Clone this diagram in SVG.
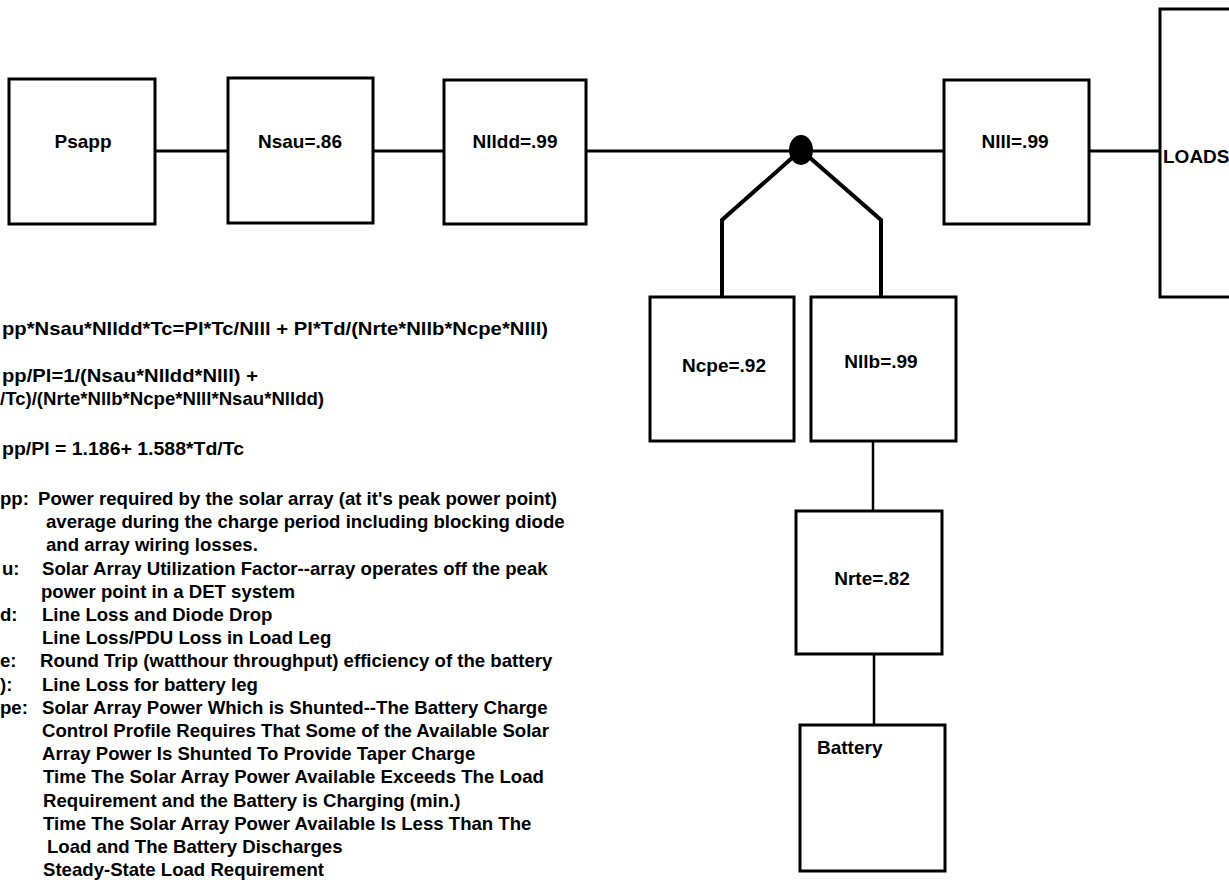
<svg xmlns="http://www.w3.org/2000/svg" width="1229" height="880" viewBox="0 0 1229 880">
<style>
.box{fill:#fff;stroke:#000;stroke-width:3}
.lbl{font-family:"Liberation Sans",Arial,sans-serif;font-weight:bold;font-size:19px;fill:#000}
.mid{text-anchor:middle}
.txt{font-family:"Liberation Sans",Arial,sans-serif;font-weight:bold;font-size:18.6px;fill:#000}
.wire{fill:none;stroke:#000;stroke-width:3}
.thin{fill:none;stroke:#000;stroke-width:2.5}
.diag{fill:none;stroke:#000;stroke-width:4;stroke-linejoin:miter}
</style>
<rect width="1229" height="880" fill="#fff"/>
<g id="connectors">
<line class="wire" x1="155" y1="151" x2="228" y2="151"/>
<line class="wire" x1="373" y1="151" x2="444" y2="151"/>
<line class="wire" x1="586" y1="151" x2="944" y2="151"/>
<line class="wire" x1="1089" y1="151" x2="1160" y2="151"/>
<polyline class="diag" points="722,297 722,220 801,150 881,220 881,297"/>
<line class="thin" x1="873" y1="441" x2="873" y2="511"/>
<line class="thin" x1="874" y1="654" x2="874" y2="725"/>
</g>
<g id="junction"><ellipse cx="801" cy="150" rx="12" ry="15" fill="#000"/></g>
<g id="psapp"><rect class="box" x="9" y="79" width="146" height="145"/><text class="lbl mid" x="83" y="148">Psapp</text></g>
<g id="nsau"><rect class="box" x="228" y="78" width="145" height="145"/><text class="lbl mid" x="300" y="148">Nsau=.86</text></g>
<g id="nlldd"><rect class="box" x="444" y="80" width="142" height="144"/><text class="lbl mid" x="515" y="148">Nlldd=.99</text></g>
<g id="nlll"><rect class="box" x="944" y="80" width="145" height="144"/><text class="lbl mid" x="1015" y="148">Nlll=.99</text></g>
<g id="loads"><rect class="box" x="1160" y="9" width="100" height="288"/><text class="lbl" x="1163" y="163">LOADS</text></g>
<g id="ncpe"><rect class="box" x="650" y="297" width="144" height="144"/><text class="lbl mid" x="724" y="372">Ncpe=.92</text></g>
<g id="nllb"><rect class="box" x="811" y="297" width="145" height="144"/><text class="lbl mid" x="881" y="368">Nllb=.99</text></g>
<g id="nrte"><rect class="box" x="796" y="511" width="146" height="143"/><text class="lbl mid" x="872" y="585">Nrte=.82</text></g>
<g id="battery"><rect class="box" x="800" y="725" width="145" height="146"/><text class="lbl" x="817" y="754">Battery</text></g>
<g id="notes" class="txt">
<text x="2" y="335" textLength="546" lengthAdjust="spacingAndGlyphs">pp*Nsau*Nlldd*Tc=Pl*Tc/Nlll + Pl*Td/(Nrte*Nllb*Ncpe*Nlll)</text>
<text x="2" y="382" textLength="256" lengthAdjust="spacingAndGlyphs">pp/Pl=1/(Nsau*Nlldd*Nlll) +</text>
<text x="0" y="405">/Tc)/(Nrte*Nllb*Ncpe*Nlll*Nsau*Nlldd)</text>
<text x="2" y="455" textLength="242" lengthAdjust="spacingAndGlyphs">pp/Pl = 1.186+ 1.588*Td/Tc</text>
<text x="0" y="505">pp:</text><text x="38" y="505">Power required by the solar array (at it's peak power point)</text>
<text x="46" y="528.2">average during the charge period including blocking diode</text>
<text x="46" y="551.4">and array wiring losses.</text>
<text x="2" y="574.6">u:</text><text x="42" y="574.6">Solar Array Utilization Factor--array operates off the peak</text>
<text x="41" y="597.8">power point in a  DET system</text>
<text x="0" y="621">d:</text><text x="42" y="621">Line Loss and Diode Drop</text>
<text x="42" y="644.1">Line Loss/PDU Loss in Load Leg</text>
<text x="0" y="667.3">e:</text><text x="40" y="667.3">Round Trip (watthour throughput) efficiency of the battery</text>
<text x="0" y="690.5">):</text><text x="42" y="690.5">Line Loss for battery leg</text>
<text x="0" y="713.7">pe:</text><text x="42" y="713.7">Solar Array Power Which is Shunted--The Battery Charge</text>
<text x="42" y="736.9">Control Profile Requires That Some of the Available Solar</text>
<text x="42" y="760.1">Array Power Is Shunted To Provide Taper Charge</text>
<text x="43" y="783.3">Time The Solar Array Power Available Exceeds The Load</text>
<text x="43" y="806.5">Requirement and the Battery is Charging (min.)</text>
<text x="43" y="829.7">Time The Solar Array Power Available Is Less Than The</text>
<text x="47" y="852.9">Load and The Battery Discharges</text>
<text x="43" y="876">Steady-State Load Requirement</text>
</g>
</svg>
